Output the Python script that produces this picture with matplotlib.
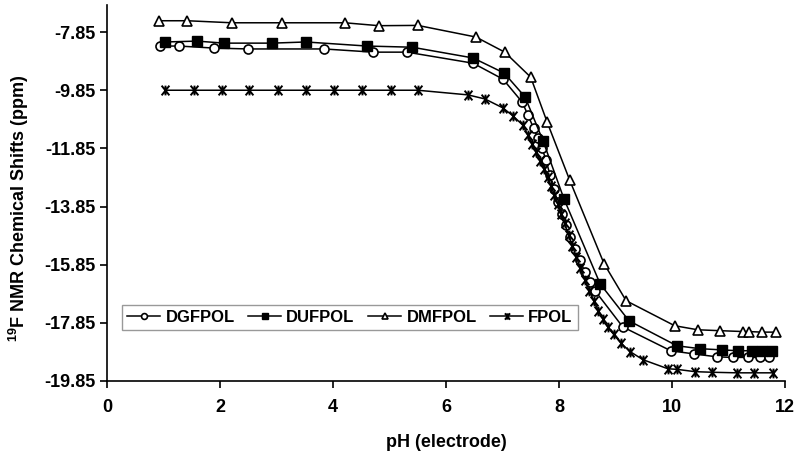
import matplotlib
matplotlib.use('Agg')
import matplotlib.pyplot as plt
from matplotlib.path import Path

plt.rcParams['font.family'] = ['Liberation Sans', 'DejaVu Sans']
plt.rcParams['font.weight'] = 'bold'
plt.rcParams['mathtext.fontset'] = 'custom'
plt.rcParams['mathtext.rm'] = 'Liberation Sans:bold'
plt.rcParams['mathtext.bf'] = 'Liberation Sans:bold'

# pH (electrode) vs 19F shift (ppm)
dgfpol_ph = [0.94, 1.27, 1.89, 2.50, 3.84, 4.71, 5.31, 6.48, 7.01, 7.35, 7.45, 7.55, 7.63,
             7.70, 7.77, 7.84, 7.91, 7.98, 8.05, 8.12, 8.20, 8.28, 8.37, 8.46, 8.55, 8.64,
             9.13, 9.98, 10.39, 10.80, 11.08, 11.35, 11.56, 11.72]
dgfpol_ppm = [-8.33, -8.33, -8.40, -8.43, -8.43, -8.54, -8.54, -8.92, -9.47, -10.26, -10.70,
              -11.15, -11.50, -11.84, -12.25, -12.75, -13.25, -13.70, -14.10, -14.50, -14.90,
              -15.30, -15.70, -16.10, -16.45, -16.75, -17.99, -18.81, -18.92, -19.02, -19.04,
              -19.04, -19.04, -19.04]

dufpol_ph = [1.03, 1.59, 2.07, 2.92, 3.52, 4.60, 5.40, 6.48, 7.03, 7.40, 7.72, 8.09, 8.73,
             9.24, 10.09, 10.50, 10.88, 11.17, 11.42, 11.59, 11.77]
dufpol_ppm = [-8.19, -8.16, -8.23, -8.23, -8.19, -8.33, -8.37, -8.74, -9.26, -10.08, -11.60,
              -13.59, -16.51, -17.78, -18.64, -18.74, -18.78, -18.81, -18.81, -18.81, -18.81]

dmfpol_ph = [0.92, 1.42, 2.21, 3.10, 4.21, 4.81, 5.50, 6.53, 7.04, 7.50, 7.79, 8.19, 8.80,
             9.19, 10.05, 10.46, 10.85, 11.26, 11.36, 11.59, 11.84]
dmfpol_ppm = [-7.46, -7.46, -7.53, -7.53, -7.53, -7.63, -7.62, -8.02, -8.54, -9.40, -10.94,
              -12.94, -15.82, -17.09, -17.95, -18.09, -18.12, -18.15, -18.15, -18.17, -18.17]

fpol_ph = [1.03, 1.54, 2.04, 2.51, 3.03, 3.52, 4.02, 4.51, 5.03, 5.50, 6.39, 6.69, 7.01,
           7.19, 7.36, 7.45, 7.53, 7.60, 7.67, 7.74, 7.80, 7.86, 7.92, 7.98, 8.04, 8.10,
           8.17, 8.24, 8.31, 8.38, 8.46, 8.54, 8.62, 8.70, 8.78, 8.87, 8.97, 9.10, 9.26,
           9.49, 9.93, 10.09, 10.41, 10.71, 11.15, 11.45, 11.79]
fpol_ppm = [-9.85, -9.85, -9.85, -9.85, -9.85, -9.85, -9.85, -9.85, -9.85, -9.85, -10.01,
            -10.15, -10.46, -10.74, -11.05, -11.40, -11.70, -11.99, -12.27, -12.57, -12.85,
            -13.14, -13.45, -13.77, -14.10, -14.43, -14.82, -15.21, -15.59, -15.96, -16.37,
            -16.76, -17.11, -17.43, -17.72, -18.01, -18.25, -18.55, -18.84, -19.12, -19.43,
            -19.45, -19.53, -19.55, -19.57, -19.57, -19.57]

x_ticks = [0, 2, 4, 6, 8, 10, 12]
y_ticks = [-7.85, -9.85, -11.85, -13.85, -15.85, -17.85, -19.85]

# excel style star: an x with a vertical bar through it
star = Path([(-0.8, -1), (0.8, 1), (-0.8, 1), (0.8, -1), (0, -1), (0, 1)],
            [Path.MOVETO, Path.LINETO, Path.MOVETO, Path.LINETO, Path.MOVETO, Path.LINETO])

fig = plt.figure(figsize=(8, 4.59), dpi=100)
ax = fig.add_axes([0.134, 0.170, 0.847, 0.819])

ax.plot(dgfpol_ph, dgfpol_ppm, color='black', lw=1.1, marker='o', ms=6.5,
        mfc='white', mec='black', mew=1.2, label='DGFPOL')
ax.plot(dufpol_ph, dufpol_ppm, color='black', lw=1.1, marker='s', ms=6.5,
        mfc='black', mec='black', label='DUFPOL')
ax.plot(dmfpol_ph, dmfpol_ppm, color='black', lw=1.1, marker='^', ms=7.5,
        mfc='white', mec='black', mew=1.2, label='DMFPOL')
ax.plot(fpol_ph, fpol_ppm, color='black', lw=1.1, marker=star, ms=7,
        mec='black', mew=1.4, label='FPOL')

ax.set_xlim(0, 12)
ax.set_ylim(-19.85, -6.92)
ax.set_xticks(x_ticks)
ax.set_yticks(y_ticks)
ax.set_yticklabels(['%.2f' % v for v in y_ticks])
ax.tick_params(labelsize=13, width=1.2, length=5, direction='out')
ax.tick_params(axis='x', pad=8)
ax.spines['top'].set_visible(False)
ax.spines['right'].set_visible(False)
ax.spines['left'].set_linewidth(1.2)
ax.spines['bottom'].set_linewidth(1.2)

ax.set_xlabel('pH (electrode)', fontsize=13, fontweight='bold', labelpad=13)
ax.set_ylabel(r'$^{\mathbf{19}}$F NMR Chemical Shifts (ppm)', fontsize=13, fontweight='bold')
ax.yaxis.set_label_coords(-0.112, 0.46)

leg = ax.legend(loc='lower left', bbox_to_anchor=(0.022, 0.136), ncol=4, fontsize=12,
                frameon=True, fancybox=False, handlelength=2.0, handletextpad=0.3,
                columnspacing=0.8, borderpad=0.3, markerscale=0.65, borderaxespad=0)
leg.get_frame().set_edgecolor('#808080')
leg.get_frame().set_linewidth(1.0)

fig.savefig('out.png', dpi=100)
